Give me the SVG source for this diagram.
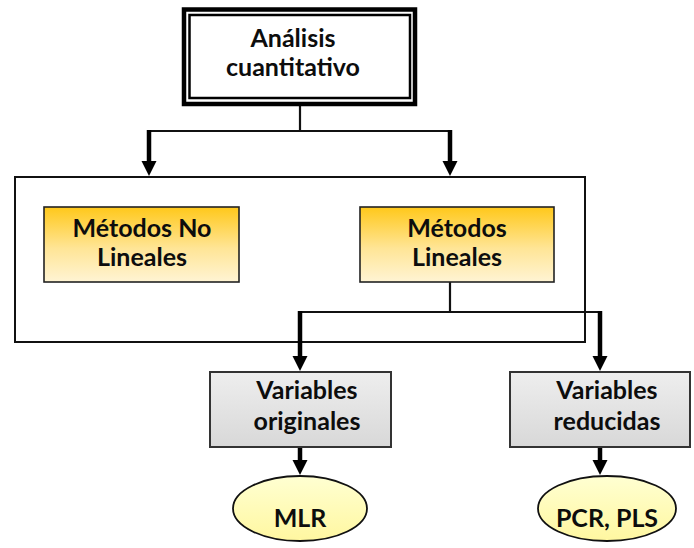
<svg xmlns="http://www.w3.org/2000/svg" width="694" height="548" viewBox="0 0 694 548">
  <style>
    .lbl { font-family: Lato, "Open Sans", "Liberation Sans", sans-serif; font-weight: bold; font-size: 25px; fill: #0d0d0d; text-anchor: middle; }
    .thin { fill: none; stroke: #111; stroke-width: 2.2; }
    .arrow { fill: none; stroke: #000; stroke-width: 4.5; marker-end: url(#head); }
    .method { fill: url(#gold); stroke: #222; stroke-width: 1.6; }
    .vars { fill: url(#grey); stroke: #333; stroke-width: 2; }
    .result { fill: url(#pale); stroke: #111; stroke-width: 1.8; }
  </style>
  <defs>
    <linearGradient id="gold" x1="0" y1="0" x2="0" y2="1">
      <stop offset="0" stop-color="#FFC81A"/>
      <stop offset="0.55" stop-color="#FFE596"/>
      <stop offset="1" stop-color="#FFF4D4"/>
    </linearGradient>
    <linearGradient id="grey" x1="0" y1="0" x2="0" y2="1">
      <stop offset="0" stop-color="#EEEEEE"/>
      <stop offset="1" stop-color="#D8D8D8"/>
    </linearGradient>
    <linearGradient id="pale" x1="0" y1="0" x2="0" y2="1">
      <stop offset="0" stop-color="#FFFFD2"/>
      <stop offset="1" stop-color="#FFF7A0"/>
    </linearGradient>
    <marker id="head" markerUnits="userSpaceOnUse" markerWidth="16" markerHeight="16" refX="1" refY="7.5" orient="auto">
      <path d="M0,0 L15,7.5 L0,15 Z" fill="#000"/>
    </marker>
  </defs>

  <!-- container frame around the two method families -->
  <rect id="container" x="15" y="177" width="570" height="165" fill="none" stroke="#111" stroke-width="2"/>

  <!-- connectors -->
  <g id="connectors">
    <path class="thin" d="M300,106 V131 M149,131 H451"/>
    <line class="arrow" x1="149" y1="130" x2="149" y2="162"/>
    <line class="arrow" x1="450" y1="130" x2="450" y2="162"/>
    <path class="thin" d="M450,282 V312 M299,312 H601"/>
    <line class="arrow" x1="300" y1="311" x2="300" y2="357"/>
    <line class="arrow" x1="600" y1="311" x2="600" y2="357"/>
    <line class="arrow" x1="300" y1="447" x2="300" y2="461"/>
    <line class="arrow" x1="600" y1="447" x2="600" y2="461"/>
  </g>

  <g id="analisis">
    <rect x="184" y="9.5" width="231" height="94.5" fill="#fff" stroke="#000" stroke-width="4.5"/>
    <rect x="189.5" y="15" width="220.5" height="83" fill="none" stroke="#000" stroke-width="2.5"/>
    <text class="lbl" x="293" y="47">Análisis</text>
    <text class="lbl" x="293" y="76">cuantitativo</text>
  </g>

  <g id="no-lineales">
    <rect class="method" x="44" y="207" width="195" height="75"/>
    <text class="lbl" x="142" y="237">Métodos No</text>
    <text class="lbl" x="142" y="266">Lineales</text>
  </g>

  <g id="lineales">
    <rect class="method" x="360" y="207" width="194" height="75"/>
    <text class="lbl" x="457" y="237">Métodos</text>
    <text class="lbl" x="457" y="266">Lineales</text>
  </g>

  <g id="originales">
    <rect class="vars" x="210" y="372" width="181" height="75"/>
    <text class="lbl" x="307" y="399">Variables</text>
    <text class="lbl" x="307" y="430">originales</text>
  </g>

  <g id="reducidas">
    <rect class="vars" x="510" y="372" width="180" height="75"/>
    <text class="lbl" x="607" y="399">Variables</text>
    <text class="lbl" x="607" y="430">reducidas</text>
  </g>

  <g id="mlr">
    <ellipse class="result" cx="300" cy="508.5" rx="67" ry="32.5"/>
    <text class="lbl" x="300" y="527">MLR</text>
  </g>

  <g id="pcr-pls">
    <ellipse class="result" cx="607" cy="508.5" rx="69" ry="32.5"/>
    <text class="lbl" x="607" y="527">PCR, PLS</text>
  </g>
</svg>
